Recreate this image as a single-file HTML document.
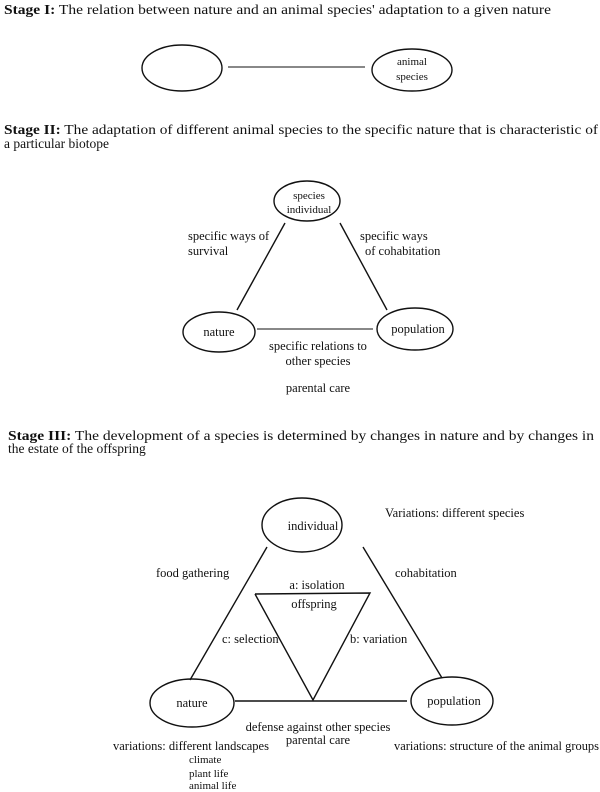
<!DOCTYPE html>
<html><head><meta charset="utf-8"><style>
html,body{margin:0;padding:0;background:#fff;}
svg{display:block;}
text{font-family:"Liberation Serif",serif;fill:#111;}
.t{font-size:13.5px;}
.b{font-weight:bold;}
.l{font-size:12.5px;}
.s{font-size:11px;}
</style></head><body>
<svg width="600" height="792" viewBox="0 0 600 792" xmlns="http://www.w3.org/2000/svg">
<g fill="none" stroke="#111" stroke-width="1.4">
<ellipse cx="182" cy="68" rx="40" ry="23"/>
<ellipse cx="412" cy="70" rx="40" ry="21"/>
<line x1="228" y1="67" x2="365" y2="67" stroke-width="1"/>
<ellipse cx="307" cy="201" rx="33" ry="20"/>
<ellipse cx="219" cy="332" rx="36" ry="20"/>
<ellipse cx="415" cy="329" rx="38" ry="21"/>
<line x1="285" y1="223" x2="237" y2="310"/>
<line x1="340" y1="223" x2="387" y2="310"/>
<line x1="257" y1="329" x2="373" y2="329" stroke-width="1"/>
<ellipse cx="302" cy="525" rx="40" ry="27"/>
<ellipse cx="192" cy="703" rx="42" ry="24"/>
<ellipse cx="452" cy="701" rx="41" ry="24"/>
<line x1="267" y1="547" x2="190" y2="680"/>
<line x1="363" y1="547" x2="442" y2="678"/>
<line x1="235" y1="701" x2="407" y2="701"/>
<polyline points="255,594 370,593 313,700 255,594"/>
</g>
<text class="t" x="4" y="14" textLength="547" lengthAdjust="spacingAndGlyphs"><tspan class="b">Stage I:</tspan>  The relation between nature and an animal species' adaptation to a given nature</text>
<text class="s" x="412" y="65" text-anchor="middle">animal</text>
<text class="s" x="412" y="80" text-anchor="middle">species</text>

<text class="t" x="4" y="134" textLength="594" lengthAdjust="spacingAndGlyphs"><tspan class="b">Stage II:</tspan>  The adaptation of different animal species to the specific nature that is characteristic of</text>
<text class="t" x="4" y="148">a particular biotope</text>
<text class="s" x="309" y="199" text-anchor="middle">species</text>
<text class="s" x="309" y="213" text-anchor="middle">individual</text>
<text class="l" x="188" y="240">specific ways of</text>
<text class="l" x="188" y="255">survival</text>
<text class="l" x="360" y="240">specific ways</text>
<text class="l" x="365" y="255">of cohabitation</text>
<text class="l" x="219" y="336" text-anchor="middle">nature</text>
<text class="l" x="418" y="333" text-anchor="middle">population</text>
<text class="l" x="318" y="350" text-anchor="middle">specific relations to</text>
<text class="l" x="318" y="365" text-anchor="middle">other species</text>
<text class="l" x="318" y="392" text-anchor="middle">parental care</text>

<text class="t" x="8" y="440" textLength="586" lengthAdjust="spacingAndGlyphs"><tspan class="b">Stage III:</tspan>  The development of a species is determined by changes in nature and by changes in</text>
<text class="t" x="8" y="453">the estate of the offspring</text>
<text class="l" x="313" y="530" text-anchor="middle">individual</text>
<text class="l" x="385" y="517">Variations:  different species</text>
<text class="l" x="156" y="577">food gathering</text>
<text class="l" x="395" y="577">cohabitation</text>
<text class="l" x="317" y="589" text-anchor="middle">a:  isolation</text>
<text class="l" x="314" y="608" text-anchor="middle">offspring</text>
<text class="l" x="222" y="643">c: selection</text>
<text class="l" x="350" y="643">b:  variation</text>
<text class="l" x="192" y="707" text-anchor="middle">nature</text>
<text class="l" x="454" y="705" text-anchor="middle">population</text>
<text class="l" x="318" y="731" text-anchor="middle">defense against other species</text>
<text class="l" x="318" y="744" text-anchor="middle">parental care</text>
<text class="l" x="113" y="750">variations: different landscapes</text>
<text class="s" x="189" y="763">climate</text>
<text class="s" x="189" y="777">plant life</text>
<text class="s" x="189" y="789">animal life</text>
<text class="l" x="394" y="750" textLength="205" lengthAdjust="spacingAndGlyphs">variations: structure of the animal groups</text>
</svg>
</body></html>
